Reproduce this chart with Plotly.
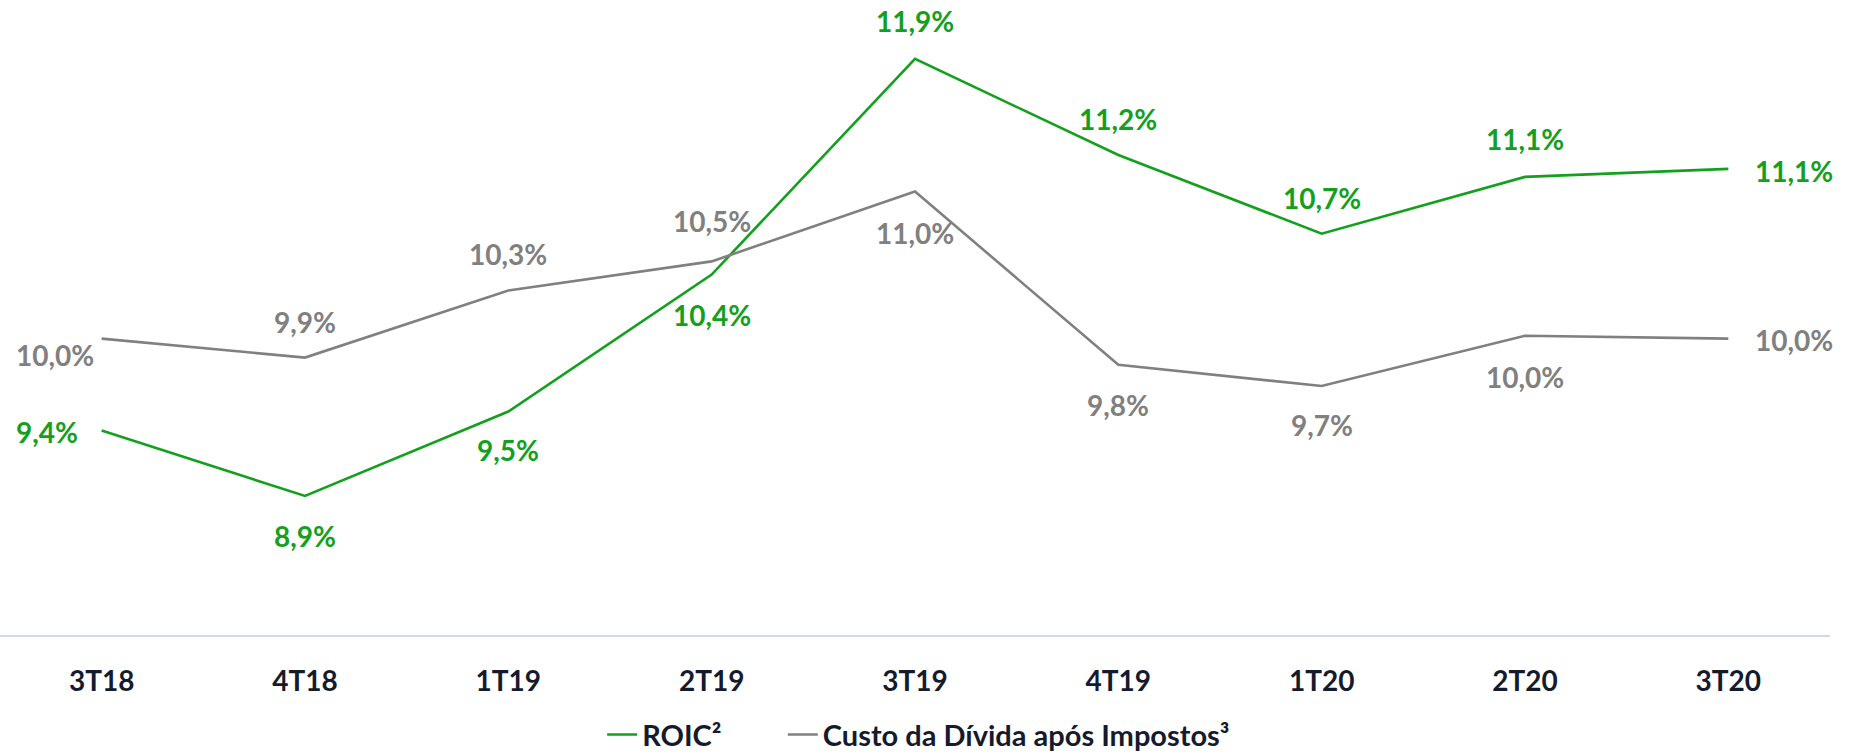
import plotly.graph_objects as go

categories = ["3T18", "4T18", "1T19", "2T19", "3T19", "4T19", "1T20", "2T20", "3T20"]
roic = [9.35, 8.90, 9.48, 10.42, 11.90, 11.24, 10.70, 11.09, 11.145]
roic_labels = ["9,4%", "8,9%", "9,5%", "10,4%", "11,9%", "11,2%", "10,7%", "11,1%", "11,1%"]
custo = [9.98, 9.85, 10.31, 10.51, 10.99, 9.80, 9.655, 10.00, 9.98]
custo_labels = ["10,0%", "9,9%", "10,3%", "10,5%", "11,0%", "9,8%", "9,7%", "10,0%", "10,0%"]
series_names = ["ROIC²", "Custo da Dívida após Impostos³"]

GREEN = "#14A01E"
GRAY = "#808080"
DARK = "#141B2D"
FONT = "Lato"

# label offsets in pixels (style only)
roic_off = [(-55, -2), (0, -40), (0, -39), (0, -40), (0, 38), (0, 36), (0, 36), (0, 38), (66, -2)]
custo_off = [(-47, -16), (0, 36), (0, 37), (0, 40), (0, -42), (0, -40), (0, -39), (0, -41), (66, -1)]

fig = go.Figure()
fig.add_trace(go.Scatter(x=categories, y=roic, mode="lines",
                         name=series_names[0] + "\u00a0" * 8,
                         line=dict(color=GREEN, width=2.6)))
fig.add_trace(go.Scatter(x=categories, y=custo, mode="lines", name=series_names[1],
                         line=dict(color=GRAY, width=2.6)))

annotations = []
for xs, ys, labs, offs, col in [(categories, roic, roic_labels, roic_off, GREEN),
                                 (categories, custo, custo_labels, custo_off, GRAY)]:
    for x, y, t, (dx, dy) in zip(xs, ys, labs, offs):
        annotations.append(dict(x=x, y=y, text=t, showarrow=False, xshift=dx, yshift=dy,
                                xanchor="center", yanchor="middle",
                                font=dict(family=FONT, size=28, color=col, weight="bold")))

fig.update_layout(
    width=1850, height=754,
    margin=dict(l=0, r=20, t=0, b=119, autoexpand=False),
    plot_bgcolor="white", paper_bgcolor="white",
    annotations=annotations,
    showlegend=True,
    legend=dict(orientation="h", x=0.502, xanchor="center", y=-0.157, yanchor="middle",
                font=dict(family=FONT, size=29, color=DARK, weight="bold"),
                itemwidth=30, tracegroupgap=0),
    xaxis=dict(range=[-0.5, 8.5], showgrid=False, zeroline=False,
               showline=True, linecolor="#CFD8E8", linewidth=2,
               ticks="", ticklabelstandoff=20, automargin=False,
               tickfont=dict(family=FONT, size=28, color=DARK, weight="bold")),
    yaxis=dict(range=[7.946, 12.304], showgrid=False, zeroline=False, showline=False,
               showticklabels=False, ticks="", automargin=False),
)

fig.write_html("out.html", config={"displayModeBar": False},
               post_script="document.body.style.margin='0';")
